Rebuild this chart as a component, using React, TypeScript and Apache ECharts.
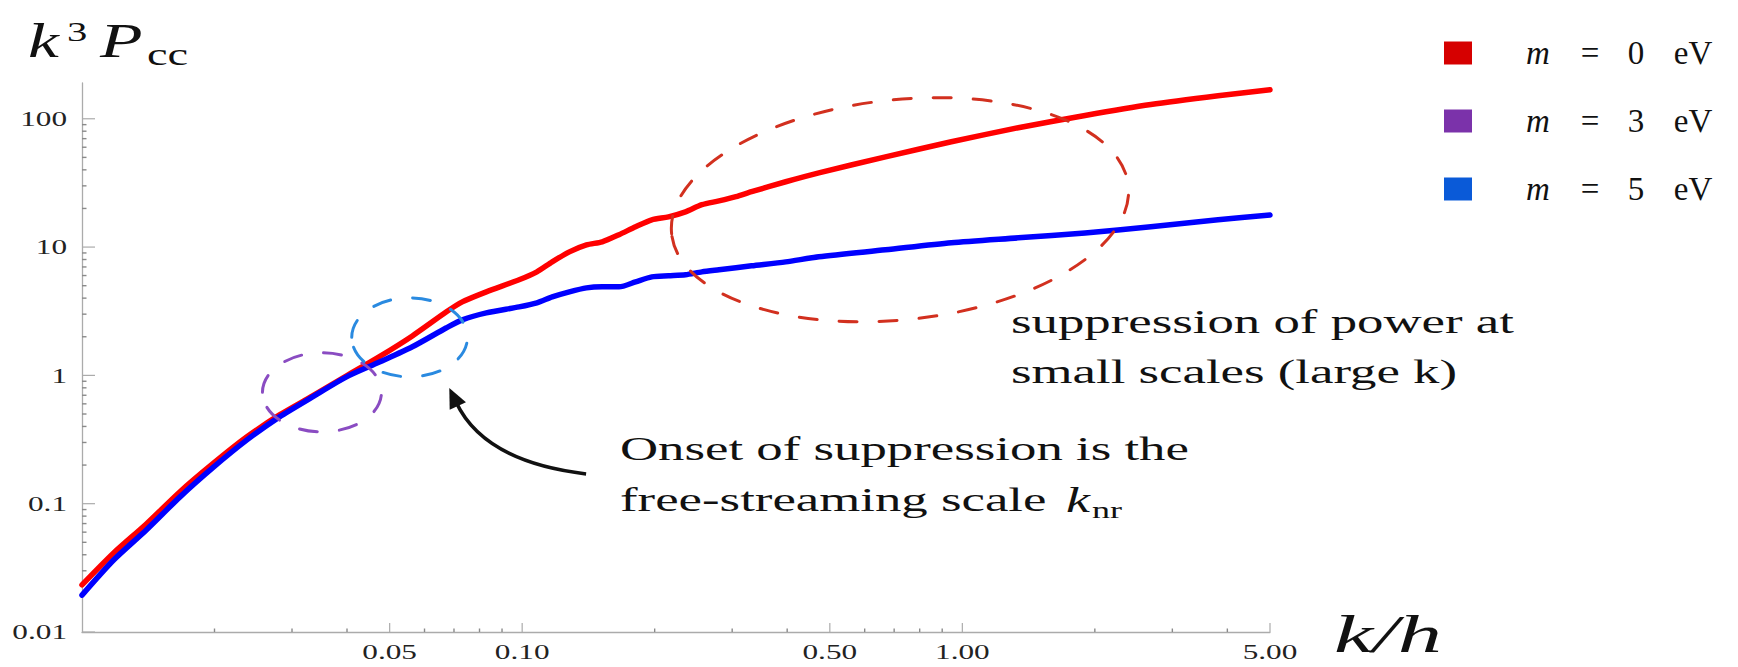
import React, { useEffect, useRef } from "react";
import * as echarts from "echarts";

// Wavenumber grid k/h shared by the curves
const K_GRID = [
  0.01, 0.0118, 0.014, 0.0167, 0.0198, 0.0237, 0.0281, 0.0334, 0.0399, 0.0474,
  0.0563, 0.0673, 0.0731, 0.0829, 0.0984, 0.108, 0.117, 0.128, 0.14, 0.152,
  0.166, 0.181, 0.197, 0.215, 0.235, 0.256, 0.28, 0.306, 0.332, 0.397,
  0.472, 0.669, 0.944, 1.34, 1.9, 2.68, 3.81, 5.0,
];
// k^3 P_cc for m = 0 eV
const POWER_M0 = [
  0.0233, 0.0413, 0.0695, 0.124, 0.204, 0.332, 0.492, 0.692, 0.991, 1.4,
  2.03, 3.13, 3.74, 4.48, 5.56, 6.41, 7.67, 9.18, 10.4, 11.0,
  12.5, 14.4, 16.3, 17.2, 18.8, 21.4, 22.9, 24.7, 27.0, 32.3,
  37.9, 50.5, 66.2, 85.1, 106, 129, 151, 168,
];
// k^3 P_cc for m = 5 eV
const POWER_M5 = [
  0.0194, 0.0364, 0.0624, 0.113, 0.19, 0.314, 0.475, 0.68, 0.974, 1.27,
  1.67, 2.35, 2.71, 3.07, 3.42, 3.68, 4.09, 4.48, 4.81, 4.9,
  4.9, 5.36, 5.86, 5.97, 6.08, 6.41, 6.65, 6.89, 7.14, 7.67,
  8.4, 9.52, 10.8, 11.8, 12.9, 14.4, 16.3, 17.8,
];

const SERIES_NAMES = ["m = 0 eV", "m = 3 eV", "m = 5 eV"];
const KEY_COLORS = ["#d60000", "#7b32aa", "#0a5ad8"];

const K_MIN = 0.01;
const K_MAX = 5;
const P_MIN = 0.01;
const P_MAX = 190;

const X_MAJOR = [0.05, 0.1, 0.5, 1, 5];
const X_MAJOR_LABELS = ["0.05", "0.10", "0.50", "1.00", "5.00"];
const X_MINOR = [0.02, 0.03, 0.04, 0.06, 0.07, 0.08, 0.09, 0.2, 0.3, 0.4, 0.6, 0.7, 0.8, 0.9, 2, 3, 4];
const Y_MAJOR = [0.01, 0.1, 1, 10, 100];
const Y_MAJOR_LABELS = ["0.01", "0.1", "1", "10", "100"];
const Y_MINOR = [
  0.02, 0.03, 0.04, 0.05, 0.06, 0.07, 0.08, 0.09,
  0.2, 0.3, 0.4, 0.5, 0.6, 0.7, 0.8, 0.9,
  2, 3, 4, 5, 6, 7, 8, 9,
  20, 30, 40, 50, 60, 70, 80, 90,
];

// Dashed rings as [kMin, Pmin, kMax, Pmax]
const RING_M3 = [0.0257, 0.363, 0.0479, 1.5];
const RING_M5 = [0.041, 0.974, 0.0751, 4.02];
const RING_SMALL_SCALES = [0.217, 2.71, 2.4, 141];
// Arrow: tail, bend control, tip as (k, P) pairs
const ARROW = [0.1397, 0.1706, 0.082, 0.2116, 0.0683, 0.799];

const SERIF = "Liberation Serif";
const AXIS_GREY = "#ababab";
const LABEL_SX = 1.42;
const NOTE_SX = 1.6;

const RING_COLORS = ["#8a4cc2", "#2a8ae0", "#d2301f"];
const RING_ROTATION = [0, 0, 0.105];

function buildOption(): any {
  const textEl = (text: string, x: number, y: number, size: number, sx: number, extra: any = {}) => ({
    type: "text",
    x,
    y,
    scaleX: sx,
    silent: true,
    style: {
      text,
      fontSize: size,
      fontFamily: SERIF,
      fill: "#111",
      align: "left",
      verticalAlign: "middle",
      textAlign: "left",
      textVerticalAlign: "middle",
      ...extra,
    },
  });

  const tok = (width: number, extra: any = {}) => ({
    width,
    align: "center",
    fontSize: 33,
    fontFamily: SERIF,
    color: "#111",
    lineHeight: 34,
    ...extra,
  });
  const keyRich = {
    g: { width: 36, fontSize: 33, fontFamily: SERIF, lineHeight: 34 },
    m: tok(50, { fontStyle: "italic" }),
    q: tok(54),
    n: tok(38),
    u: tok(76),
  };

  return {
    animation: false,
    backgroundColor: "#fff",
    textStyle: { fontFamily: SERIF },
    grid: { left: 82, right: 468, top: 83, bottom: 35, containLabel: false },
    xAxis: {
      type: "log",
      logBase: 10,
      min: K_MIN,
      max: K_MAX,
      axisLine: { show: true, onZero: false, lineStyle: { color: AXIS_GREY, width: 1.3 } },
      axisTick: { show: false },
      axisLabel: { show: false },
      splitLine: { show: false },
      minorTick: { show: false },
    },
    yAxis: {
      type: "log",
      logBase: 10,
      min: P_MIN,
      max: P_MAX,
      axisLine: { show: true, onZero: false, lineStyle: { color: AXIS_GREY, width: 1.3 } },
      axisTick: { show: false },
      axisLabel: { show: false },
      splitLine: { show: false },
      minorTick: { show: false },
    },
    legend: {
      orient: "vertical",
      left: 1439,
      top: 31,
      itemWidth: 28,
      itemHeight: 23,
      itemGap: 34,
      icon: "rect",
      selectedMode: false,
      data: SERIES_NAMES.map((name, i) => ({ name, itemStyle: { color: KEY_COLORS[i], borderWidth: 0 } })),
      textStyle: { fontFamily: SERIF, fontSize: 33, color: "#111", lineHeight: 34, rich: keyRich },
      formatter: (name: string) => {
        const digit = name.split(" ")[2];
        return `{g| }{m|m}{q|=}{n|${digit}}{u|eV}`;
      },
    },
    series: [
      {
        name: SERIES_NAMES[0],
        type: "line",
        data: K_GRID.map((k, i) => [k, POWER_M0[i]]),
        showSymbol: false,
        symbol: "none",
        smooth: 0.25,
        color: "#ff0000",
        lineStyle: { color: "#ff0000", width: 5.5, cap: "round", join: "round" },
        z: 3,
        silent: true,
      },
      {
        name: SERIES_NAMES[1],
        type: "line",
        data: [],
        showSymbol: false,
        color: KEY_COLORS[1],
        lineStyle: { color: KEY_COLORS[1], width: 5 },
        z: 3,
        silent: true,
      },
      {
        name: SERIES_NAMES[2],
        type: "line",
        data: K_GRID.map((k, i) => [k, POWER_M5[i]]),
        showSymbol: false,
        symbol: "none",
        smooth: 0.25,
        color: "#0000ff",
        lineStyle: { color: "#0000ff", width: 5.5, cap: "round", join: "round" },
        z: 4,
        silent: true,
      },
      // x-axis ticks and labels
      {
        type: "custom",
        silent: true,
        z: 1,
        data: X_MAJOR.map((k) => [k, P_MIN]),
        renderItem: (params: any, api: any) => {
          const p = api.coord([api.value(0), P_MIN]);
          return {
            type: "group",
            children: [
              { type: "line", shape: { x1: p[0], y1: p[1], x2: p[0], y2: p[1] - 9 }, style: { stroke: AXIS_GREY, lineWidth: 1.2 } },
              {
                type: "text",
                x: p[0],
                y: p[1] + 20,
                scaleX: LABEL_SX,
                style: {
                  text: X_MAJOR_LABELS[params.dataIndex],
                  fontSize: 22,
                  fontFamily: SERIF,
                  fill: "#222",
                  align: "center",
                  verticalAlign: "middle",
                  textAlign: "center",
                  textVerticalAlign: "middle",
                },
              },
            ],
          };
        },
      },
      {
        type: "custom",
        silent: true,
        z: 1,
        data: X_MINOR.map((k) => [k, P_MIN]),
        renderItem: (params: any, api: any) => {
          const p = api.coord([api.value(0), P_MIN]);
          return { type: "line", shape: { x1: p[0], y1: p[1], x2: p[0], y2: p[1] - 3.5 }, style: { stroke: "#8a8a8a", lineWidth: 1.4 } };
        },
      },
      // y-axis ticks and labels
      {
        type: "custom",
        silent: true,
        z: 1,
        data: Y_MAJOR.map((v) => [K_MIN, v]),
        renderItem: (params: any, api: any) => {
          const p = api.coord([K_MIN, api.value(1)]);
          return {
            type: "group",
            children: [
              { type: "line", shape: { x1: p[0], y1: p[1], x2: p[0] + 13, y2: p[1] }, style: { stroke: AXIS_GREY, lineWidth: 1.2 } },
              {
                type: "text",
                x: 67,
                y: p[1],
                scaleX: LABEL_SX,
                style: {
                  text: Y_MAJOR_LABELS[params.dataIndex],
                  fontSize: 22,
                  fontFamily: SERIF,
                  fill: "#222",
                  align: "right",
                  verticalAlign: "middle",
                  textAlign: "right",
                  textVerticalAlign: "middle",
                },
              },
            ],
          };
        },
      },
      {
        type: "custom",
        silent: true,
        z: 1,
        data: Y_MINOR.map((v) => [K_MIN, v]),
        renderItem: (params: any, api: any) => {
          const p = api.coord([K_MIN, api.value(1)]);
          return { type: "line", shape: { x1: p[0], y1: p[1], x2: p[0] + 4.5, y2: p[1] }, style: { stroke: "#8a8a8a", lineWidth: 1.4 } };
        },
      },
      // dashed rings
      {
        type: "custom",
        silent: true,
        z: 6,
        encode: { x: [0, 2], y: [1, 3] },
        data: [RING_M3, RING_M5, RING_SMALL_SCALES],
        renderItem: (params: any, api: any) => {
          const a = api.coord([api.value(0), api.value(1)]);
          const b = api.coord([api.value(2), api.value(3)]);
          const i = params.dataIndex;
          return {
            type: "ellipse",
            x: (a[0] + b[0]) / 2,
            y: (a[1] + b[1]) / 2,
            rotation: RING_ROTATION[i],
            shape: { cx: 0, cy: 0, rx: Math.abs(b[0] - a[0]) / 2, ry: Math.abs(b[1] - a[1]) / 2 },
            style: { fill: "none", stroke: RING_COLORS[i], lineWidth: 3, lineDash: [18, 22], lineCap: "round" },
          };
        },
      },
      // arrow pointing at the onset
      {
        type: "custom",
        silent: true,
        z: 7,
        encode: { x: [0, 2, 4], y: [1, 3, 5] },
        data: [ARROW],
        renderItem: (params: any, api: any) => {
          const t = api.coord([api.value(0), api.value(1)]);
          const c = api.coord([api.value(2), api.value(3)]);
          const h = api.coord([api.value(4), api.value(5)]);
          const dx = h[0] - c[0];
          const dy = h[1] - c[1];
          const len = Math.hypot(dx, dy);
          const ux = dx / len;
          const uy = dy / len;
          const L = 20;
          const W = 9;
          const bx = h[0] - ux * L;
          const by = h[1] - uy * L;
          return {
            type: "group",
            children: [
              {
                type: "bezierCurve",
                shape: { x1: t[0], y1: t[1], x2: bx + ux * 4, y2: by + uy * 4, cpx1: c[0], cpy1: c[1] },
                style: { stroke: "#111", lineWidth: 3.6, fill: "none" },
              },
              {
                type: "polygon",
                shape: { points: [[h[0], h[1]], [bx - uy * W, by + ux * W], [bx + uy * W, by - ux * W]] },
                style: { fill: "#111" },
              },
            ],
          };
        },
      },
    ],
    graphic: [
      // axis titles
      textEl("k", 28, 41, 48, 1.45, { fontStyle: "italic" }),
      textEl("3", 67, 32, 28, 1.45),
      textEl("P", 100, 41, 48, 1.45, { fontStyle: "italic" }),
      textEl("cc", 147, 54, 32, 1.45),
      textEl("k/h", 1334, 634, 52, 1.7, { fontStyle: "italic" }),
      // notes
      textEl("suppression of power at", 1011, 322, 33, NOTE_SX),
      textEl("small scales (large k)", 1011, 372, 33, NOTE_SX),
      textEl("Onset of suppression is the", 620, 449, 33, NOTE_SX),
      textEl("free-streaming scale", 620, 500, 33, NOTE_SX),
      textEl("k", 1066, 500, 36, 1.5, { fontStyle: "italic" }),
      textEl("nr", 1092, 510, 24, 1.5),
    ],
  };
}

export default function App() {
  const ref = useRef<HTMLDivElement>(null);
  useEffect(() => {
    if (!ref.current) return;
    const chart = echarts.init(ref.current, null, { renderer: "svg" });
    chart.setOption(buildOption());
    return () => {
      chart.dispose();
    };
  }, []);
  return (
    <div
      ref={ref}
      style={{ position: "fixed", left: 0, top: 0, width: 1738, height: 667, background: "#fff" }}
    />
  );
}
